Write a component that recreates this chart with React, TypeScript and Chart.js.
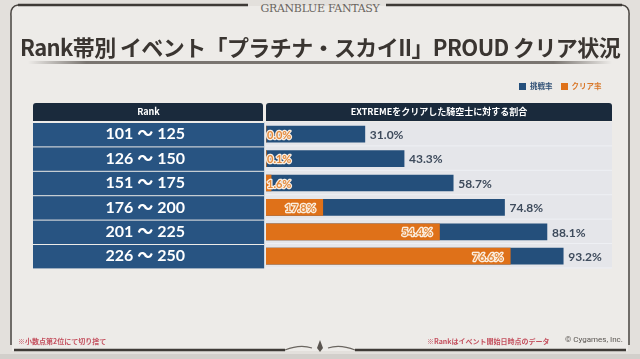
import React, { useEffect, useRef } from 'react';
import { Chart, registerables } from 'chart.js';

Chart.register(...registerables);

const titleText = 'Rank帯別 イベント「プラチナ・スカイII」PROUD クリア状況';
const ranks = ['101 ～ 125', '126 ～ 150', '151 ～ 175', '176 ～ 200', '201 ～ 225', '226 ～ 250'];
const challengeRate = [31.0, 43.3, 58.7, 74.8, 88.1, 93.2];
const clearRate = [0.0, 0.1, 1.6, 17.8, 54.4, 76.6];
const seriesNames = ['挑戦率', 'クリア率'];
const rankHeader = 'Rank';
const valueHeader = 'EXTREMEをクリアした騎空士に対する割合';
const noteLeft = '※小数点第2位にて切り捨て';
const noteRight = '※Rankはイベント開始日時点のデータ';
const copyright = '© Cygames, Inc.';

const BLUE = '#244f7b';
const ROW_BLUE = '#285482';
const ORANGE = '#df7119';
const NAVY = '#1a2a3c';
const JP = '"Noto Sans CJK JP", "Noto Sans", sans-serif';

function roundRect(ctx: CanvasRenderingContext2D, x: number, y: number, w: number, h: number, r: number) {
  ctx.beginPath();
  ctx.moveTo(x + r, y);
  ctx.lineTo(x + w - r, y);
  ctx.quadraticCurveTo(x + w, y, x + w, y + r);
  ctx.lineTo(x + w, y + h);
  ctx.lineTo(x, y + h);
  ctx.lineTo(x, y + r);
  ctx.quadraticCurveTo(x, y, x + r, y);
  ctx.closePath();
}

const tablePlugin = {
  id: 'tablePlugin',
  beforeDraw(chart: any) {
    const { ctx, chartArea, scales } = chart;
    const y = scales.y;
    const left = 33;
    const rankRight = 264;
    const top = chartArea.top;
    const bottom = chartArea.bottom;
    ctx.save();
    // header boxes
    ctx.fillStyle = NAVY;
    roundRect(ctx, left, top - 19, rankRight - left - 1, 18, 3);
    ctx.fill();
    roundRect(ctx, chartArea.left, top - 19, chartArea.right - chartArea.left, 18, 3);
    ctx.fill();
    ctx.fillStyle = '#ffffff';
    ctx.textAlign = 'center';
    ctx.textBaseline = 'middle';
    ctx.font = `bold 9px ${JP}`;
    ctx.fillText(rankHeader, (left + rankRight) / 2, top - 10);
    ctx.fillText(valueHeader, (chartArea.left + chartArea.right) / 2, top - 10);
    // bar area background
    ctx.fillStyle = '#e5e6ea';
    ctx.fillRect(chartArea.left, top, chartArea.right - chartArea.left, bottom - top);
    // rank rows
    const n = ranks.length;
    const h = (bottom - top) / n;
    for (let i = 0; i < n; i++) {
      const cy = y.getPixelForValue(i);
      const y0 = cy - h / 2;
      ctx.fillStyle = ROW_BLUE;
      ctx.fillRect(left, y0 + 1, rankRight - left, h - 1);
      ctx.fillStyle = '#eef0f4';
      ctx.fillRect(chartArea.left, y0 + h - 1, chartArea.right - chartArea.left, 1);
    }
    ctx.fillStyle = '#c9d3df';
    ctx.fillRect(rankRight, top, 1, bottom - top);
    ctx.restore();
  },
  afterDatasetsDraw(chart: any) {
    const { ctx, chartArea } = chart;
    const blueMeta = chart.getDatasetMeta(0);
    const orangeMeta = chart.getDatasetMeta(1);
    ctx.save();
    ctx.textBaseline = 'middle';
    blueMeta.data.forEach((bar: any, i: number) => {
      ctx.font = 'bold 12px Lato, sans-serif';
      ctx.fillStyle = '#3e4b5c';
      ctx.textAlign = 'left';
      ctx.fillText(`${challengeRate[i].toFixed(1)}%`, bar.x + 5, bar.y + 1);
    });
    orangeMeta.data.forEach((bar: any, i: number) => {
      const label = `${clearRate[i].toFixed(1)}%`;
      ctx.font = 'bold 11px Lato, sans-serif';
      const w = ctx.measureText(label).width;
      let x = bar.x - 7 - w;
      if (x < chartArea.left + 1) x = chartArea.left + 1;
      ctx.textAlign = 'left';
      ctx.lineJoin = 'round';
      ctx.lineWidth = 2.5;
      ctx.strokeStyle = '#fbeee0';
      ctx.strokeText(label, x, bar.y + 1);
      ctx.fillStyle = '#e38a3c';
      ctx.fillText(label, x, bar.y + 1);
    });
    ctx.restore();
  },
};

export default function App() {
  const ref = useRef<HTMLCanvasElement>(null);
  useEffect(() => {
    document.body.style.margin = '0';
    const chart = new Chart(ref.current!, {
      type: 'bar',
      data: {
        labels: ranks,
        datasets: [
          {
            label: seriesNames[0],
            data: challengeRate,
            backgroundColor: BLUE,
            borderColor: '#3a6792',
            borderWidth: 0,
            grouped: false,
            order: 2,
            barThickness: 16,
          } as any,
          {
            label: seriesNames[1],
            data: clearRate,
            backgroundColor: ORANGE,
            grouped: false,
            order: 1,
            barThickness: 16,
          } as any,
        ],
      },
      options: {
        indexAxis: 'y',
        responsive: false,
        animation: false,
        layout: { padding: { left: 33, right: 28, top: 122, bottom: 40 } },
        plugins: { legend: { display: false }, tooltip: { enabled: false } },
        scales: {
          x: { min: 0, max: 108.5, display: false, grid: { display: false } },
          y: {
            position: 'left',
            grid: { display: false, drawTicks: false },
            border: { display: false },
            ticks: {
              color: '#ffffff',
              font: { family: 'Lato, "Noto Sans CJK JP", sans-serif', size: 16, weight: 'bold' },
              crossAlign: 'center',
              padding: 81,
            },
            afterFit: (scale: any) => {
              scale.width = 233;
            },
          },
        },
      },
      plugins: [tablePlugin],
    });
    return () => chart.destroy();
  }, []);

  return (
    <div
      style={{
        position: 'relative',
        width: 640,
        height: 359,
        overflow: 'hidden',
        background: '#e3e0dc',
        fontFamily: JP,
      }}
    >
      <svg width={640} height={359} style={{ position: 'absolute', left: 0, top: 0 }}>
        <defs>
          <linearGradient id="ul" x1="0" x2="1" y1="0" y2="0">
            <stop offset="0" stopColor="#6d6863" stopOpacity="0" />
            <stop offset="0.1" stopColor="#6d6863" stopOpacity="0.9" />
            <stop offset="0.9" stopColor="#6d6863" stopOpacity="0.9" />
            <stop offset="1" stopColor="#6d6863" stopOpacity="0" />
          </linearGradient>
        </defs>
        <rect x={12} y={6} width={616} height={345} fill="#edebe8" />
        <rect x={0} y={354} width={640} height={5} fill="#d2cfcb" />
        {/* top frame */}
        <path d="M18 5 L248 5" stroke="#3e3a36" strokeWidth={2.5} fill="none" />
        <path d="M386 5 L622 5" stroke="#3e3a36" strokeWidth={2.5} fill="none" />
        <path d="M18 5 Q10 6 11 16 L11 345" stroke="#4a4541" strokeWidth={1.5} fill="none" />
        <path d="M622 5 Q630 6 629 16 L629 345" stroke="#4a4541" strokeWidth={1.5} fill="none" />
        <path d="M14 350 L285 350" stroke="#3e3a36" strokeWidth={2.5} fill="none" />
        <path d="M355 350 L626 350" stroke="#3e3a36" strokeWidth={2.5} fill="none" />
        <path d="M285 350 Q300 344 312 348 M328 348 Q340 344 355 350" stroke="#6b6660" strokeWidth={1.2} fill="none" />
        <path d="M320 340 L317 348 L320 352 L323 348 Z" fill="#5a5550" />
        <rect x={28} y={61} width={584} height={3} fill="url(#ul)" />
      </svg>
      <div
        style={{
          position: 'absolute',
          left: 0,
          width: 640,
          top: 3,
          textAlign: 'center',
          fontFamily: '"DejaVu Serif", "Liberation Serif", serif',
          fontSize: 11,
          letterSpacing: -0.3,
          color: '#6a6560',
          lineHeight: '12px',
        }}
      >
        GRANBLUE FANTASY
      </div>
      <canvas ref={ref} width={640} height={359} style={{ position: 'absolute', left: 0, top: 0, width: 640, height: 359 }} />
      <div
        style={{
          position: 'absolute',
          left: 0,
          width: 640,
          top: 31,
          textAlign: 'center',
          fontSize: 22,
          fontWeight: 'bold',
          color: '#3a3531',
          lineHeight: '30px',
          whiteSpace: 'nowrap',
          letterSpacing: -0.6,
        }}
      >
        {titleText}
      </div>
      <div
        style={{
          position: 'absolute',
          left: 519,
          top: 81,
          fontSize: 7.5,
          fontWeight: 'bold',
          lineHeight: '10px',
          whiteSpace: 'nowrap',
          display: 'flex',
          alignItems: 'center',
        }}
      >
        <span style={{ display: 'inline-block', width: 7, height: 7, background: BLUE, marginRight: 4 }} />
        <span style={{ color: '#2f4f74', marginRight: 8 }}>{seriesNames[0]}</span>
        <span style={{ display: 'inline-block', width: 7, height: 7, background: ORANGE, marginRight: 4 }} />
        <span style={{ color: '#d9782a' }}>{seriesNames[1]}</span>
      </div>
      <div style={{ position: 'absolute', left: 18, top: 336, fontSize: 7, fontWeight: 'bold', color: '#c4505e', lineHeight: '10px', whiteSpace: 'nowrap' }}>
        {noteLeft}
      </div>
      <div style={{ position: 'absolute', left: 427, top: 336, fontSize: 7, fontWeight: 'bold', color: '#c4505e', lineHeight: '10px', whiteSpace: 'nowrap' }}>
        {noteRight}
      </div>
      <div style={{ position: 'absolute', left: 565, top: 335, fontSize: 8, fontFamily: 'Roboto, "Noto Sans", sans-serif', color: '#5a5652', lineHeight: '10px', whiteSpace: 'nowrap' }}>
        {copyright}
      </div>
    </div>
  );
}
